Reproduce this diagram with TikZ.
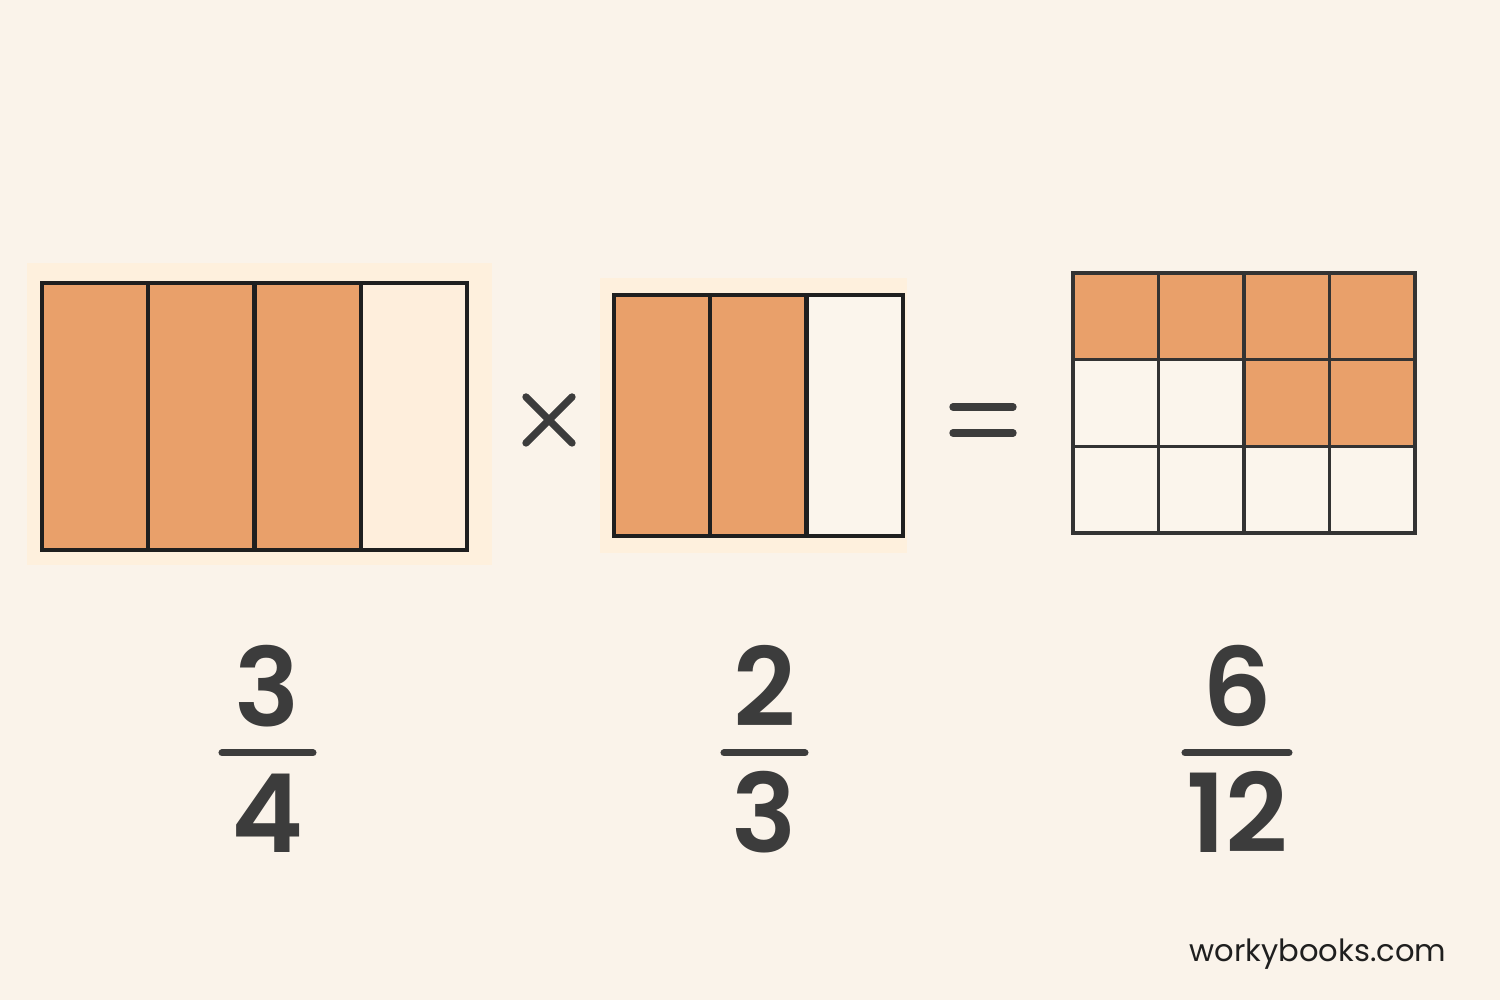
\documentclass[tikz,border=0pt]{standalone}
\usepackage{fontspec}
\setmainfont{Poppins}
\newfontfamily\numfont{Poppins SemiBold}
\usetikzlibrary{positioning}

\definecolor{paper}{HTML}{FAF3EA}
\definecolor{glow}{HTML}{FEF0DD}
\definecolor{partfill}{HTML}{E9A06A}
\definecolor{pale}{HTML}{FEEEDC}
\definecolor{blank}{HTML}{FBF5EC}
\definecolor{ink}{HTML}{3C3C3C}

\begin{document}
\begin{tikzpicture}[
  every node/.style={inner sep=0pt},
  num/.style={font=\numfont\fontsize{31}{36}\selectfont, text=ink, anchor=base},
  bar/.style={draw=ink, line width=2pt, line cap=round},
  sign/.style={draw=ink, line width=2.1pt, line cap=round},
  frame/.style={draw=black!88, line width=1.2pt},
  gridline/.style={draw=black!80, line width=1pt}
]
\useasboundingbox[fill=paper] (0,0) rectangle (15,10);

% Left bar: 3 of 4
\fill[glow] (0.27,4.35) rectangle (4.92,7.37);
\foreach \i in {0,1,2} {
  \fill[partfill] (0.42+1.0625*\i,4.50) rectangle ++(1.0625,2.67);
}
\fill[pale] (3.6075,4.50) rectangle (4.67,7.17);
\foreach \i in {1,2,3} {
  \draw[frame] (0.42+1.0625*\i,4.50) -- ++(0,2.67);
}
\draw[frame] (0.42,4.50) rectangle (4.67,7.17);

% Times sign
\coordinate (tc) at (5.49,5.80);
\draw[sign] ([shift={(-0.23,-0.23)}]tc) -- ([shift={(0.23,0.23)}]tc);
\draw[sign] ([shift={(-0.23,0.23)}]tc) -- ([shift={(0.23,-0.23)}]tc);

% Middle bar: 2 of 3
\fill[glow] (6.00,4.47) rectangle (9.07,7.22);
\foreach \i in {0,1} {
  \fill[partfill] (6.14+0.963*\i,4.64) rectangle ++(0.963,2.41);
}
\fill[blank] (8.066,4.64) rectangle (9.03,7.05);
\foreach \i in {1,2} {
  \draw[frame] (6.14+0.963*\i,4.64) -- ++(0,2.41);
}
\draw[frame] (6.14,4.64) rectangle (9.03,7.05);

% Equals sign
\coordinate (el) at (9.53,5.80);
\coordinate (er) at (10.13,5.80);
\draw[sign] ([yshift=1.3mm]el) -- ([yshift=1.3mm]er);
\draw[sign] ([yshift=-1.3mm]el) -- ([yshift=-1.3mm]er);

% Result grid: 6 of 12
\fill[blank] (10.73,4.67) rectangle (14.15,7.27);
\foreach \c in {0,1,2,3} {
  \fill[partfill] (10.73+0.855*\c,6.40) rectangle ++(0.855,0.87);
}
\foreach \c in {2,3} {
  \fill[partfill] (10.73+0.855*\c,5.53) rectangle ++(0.855,0.87);
}
\foreach \c in {1,2,3} {
  \draw[gridline] (10.73+0.855*\c,4.67) -- ++(0,2.60);
}
\foreach \r in {1,2} {
  \draw[gridline] (10.73,4.67+0.867*\r) -- ++(3.42,0);
}
\draw[gridline] (10.73,4.67) rectangle (14.15,7.27);

% Fractions
\node (num1) at (2.675,2.73) [num] {3};
\node (den1) at (2.675,1.47) [num] {4};
\coordinate (bar1l) at (2.22,2.47);
\coordinate (bar1r) at (3.13,2.47);
\draw[bar] (bar1l) -- (bar1r);

\node (num2) at (7.645,2.73) [num] {2};
\node (den2) at (7.645,1.47) [num] {3};
\coordinate (bar2l) at (7.24,2.47);
\coordinate (bar2r) at (8.05,2.47);
\draw[bar] (bar2l) -- (bar2r);

\node (num3) at (12.37,2.73) [num] {6};
\node (den3) at (12.37,1.47) [num] {12};
\coordinate (bar3l) at (11.85,2.47);
\coordinate (bar3r) at (12.89,2.47);
\draw[bar] (bar3l) -- (bar3r);

% Site name
\node (site) at (14.47,0.38) [anchor=base east, font=\fontsize{8.7}{11}\selectfont, text=black!88] {workybooks.com};

\end{tikzpicture}
\end{document}
